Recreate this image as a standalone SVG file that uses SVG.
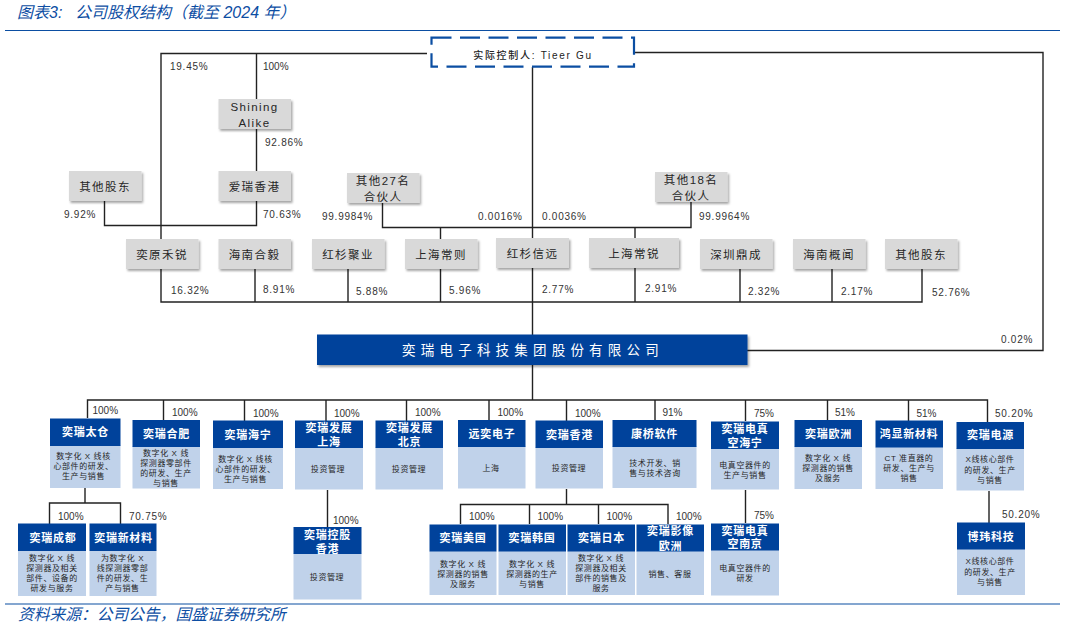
<svg xmlns="http://www.w3.org/2000/svg" width="1065" height="628" viewBox="0 0 1065 628">
<style>
text{font-family:"Liberation Sans","Noto Sans CJK SC",sans-serif}
.cap{font-size:16px;font-style:italic;fill:#0d4ea3}
.rule{stroke:#0b4ea2;stroke-width:1.2;fill:none}
.ln{stroke:#222;stroke-width:1.4;fill:none}
.g{fill:#d9d9d9;filter:url(#sh)}
.gt{font-size:11.5px;letter-spacing:1.4px;fill:#262626;text-anchor:middle}
.h{fill:#00429b}
.b{fill:#c0d2ea}
.ht{font-size:11px;font-weight:700;letter-spacing:.7px;fill:#fff;text-anchor:middle}
.bt{font-size:8px;letter-spacing:.6px;fill:#262626;text-anchor:middle}
.p{font-size:10px;fill:#333}
.pd{font-size:10px;letter-spacing:.75px;fill:#333}
</style>
<defs><filter id="sh" x="-10%" y="-10%" width="120%" height="130%"><feDropShadow dx="1.5" dy="2" stdDeviation="1" flood-color="#000" flood-opacity=".35"/></filter></defs>

<text class="cap" x="17" y="18">图表3:</text><text class="cap" x="75" y="18">公司股权结构（截至 2024 年）</text>
<path class="rule" d="M5 30.500H1060M5 604H1060"/>

<g id="connectors">
<path class="ln" d="M427 53.500H161V239M256.500 53.500V99M256.500 129V171M256.500 201V225.500H104.500V201M161 225.500V239"/>
<path class="ln" d="M634 52.500H1043V350.500H745"/>
<path class="ln" d="M532.500 67V335M382.500 203V227.500H691V202M440.500 227.500V239M635 227.500V238"/>
<path class="ln" d="M161 269V302H922V269M255 269V302M348 269V302M440.500 269V302M635 268V302M740 269V302M832 269V302"/>
<path class="ln" d="M532.500 365V400"/>
<path class="ln" d="M87.500 418V400H987.500V422M163.500 400V420M244.500 400V421M326 400V421M406.500 400V421M489 400V420M566.500 400V421M655 400V420M745.500 400V421M827.500 400V420M908.500 400V421"/>
<path class="ln" d="M85 488V503M49.500 524V503H120.500V524"/>
<path class="ln" d="M327.500 490V527"/>
<path class="ln" d="M566.500 489V504.500M460.500 524V504.500H668V524M529.500 504.500V524M598.500 504.500V524"/>
<path class="ln" d="M745.500 490V523M989 491V523"/>
</g>

<g id="controller"><rect x="431.500" y="37.700" width="202.500" height="29" fill="#fff" stroke="#0b4ea2" stroke-width="2.200" stroke-dasharray="20 8.500"/><text x="533" y="59" font-size="10px" font-weight="500" letter-spacing="1.700px" fill="#222" text-anchor="middle">实际控制人: Tieer Gu</text></g>

<g id="shining"><rect class="g" x="218.500" y="99" width="72.500" height="30"/><text class="gt" x="254.500" y="111">Shining</text><text class="gt" x="254.500" y="127">Alike</text></g>
<g id="aixg"><rect class="g" x="218.500" y="171" width="72.500" height="30"/><text class="gt" x="254.500" y="191">爱瑞香港</text></g>
<g id="qtgd1"><rect class="g" x="69" y="171" width="72.500" height="30"/><text class="gt" x="105" y="191">其他股东</text></g>
<g id="qt27"><rect class="g" x="347" y="173" width="72.500" height="30"/><text class="gt" x="383" y="185">其他27名</text><text class="gt" x="383" y="201">合伙人</text></g>
<g id="qt18"><rect class="g" x="655" y="172" width="72.500" height="30"/><text class="gt" x="691" y="184">其他18名</text><text class="gt" x="691" y="200">合伙人</text></g>
<g id="yyhr"><rect class="g" x="126" y="239" width="72.500" height="30"/><text class="gt" x="162" y="259">奕原禾锐</text></g>
<g id="hnhy"><rect class="g" x="218.500" y="239" width="72.500" height="30"/><text class="gt" x="254.500" y="259">海南合毅</text></g>
<g id="hsjy"><rect class="g" x="312" y="239" width="72.500" height="30"/><text class="gt" x="348" y="259">红杉聚业</text></g>
<g id="shcz"><rect class="g" x="405" y="239" width="72.500" height="30"/><text class="gt" x="441" y="259">上海常则</text></g>
<g id="hsxy"><rect class="g" x="496" y="238" width="73" height="30"/><text class="gt" x="532.500" y="258">红杉信远</text></g>
<g id="shcr"><rect class="g" x="589" y="238" width="90" height="30"/><text class="gt" x="634" y="258">上海常锐</text></g>
<g id="szdc"><rect class="g" x="700" y="239" width="72.500" height="30"/><text class="gt" x="736" y="259">深圳鼎成</text></g>
<g id="hngw"><rect class="g" x="793" y="239" width="72.500" height="30"/><text class="gt" x="829" y="259">海南概闻</text></g>
<g id="qtgd2"><rect class="g" x="885" y="239" width="72.500" height="30"/><text class="gt" x="921" y="259">其他股东</text></g>

<g id="iray"><rect x="317" y="334.500" width="430.500" height="30.500" fill="#00429b" filter="url(#sh)"/><text x="533" y="355" font-size="13.500px" letter-spacing="5.200px" fill="#fff" text-anchor="middle">奕瑞电子科技集团股份有限公司</text></g>

<g id="taicang"><rect class="b" x="50" y="445" width="70.500" height="43"/><rect class="h" x="50" y="418.500" width="70.500" height="27.500"/><text class="ht" x="85.500" y="436">奕瑞太仓</text><text class="bt" x="83.500" y="459">数字化 X 线核</text><text class="bt" x="83.500" y="469">心部件的研发、</text><text class="bt" x="83.500" y="479">生产与销售</text></g>
<g id="hefei"><rect class="b" x="132.500" y="446" width="67.500" height="42.500"/><rect class="h" x="132.500" y="420" width="67.500" height="27"/><text class="ht" x="166.500" y="438">奕瑞合肥</text><text class="bt" x="166" y="456">数字化 X 线</text><text class="bt" x="166" y="466">探测器零部件</text><text class="bt" x="166" y="476">的研发、生产</text><text class="bt" x="166" y="486">与销售</text></g>
<g id="haining"><rect class="b" x="213" y="447" width="70" height="42"/><rect class="h" x="213" y="420.500" width="70" height="27.500"/><text class="ht" x="248" y="439">奕瑞海宁</text><text class="bt" x="245.500" y="462">数字化 X 线核</text><text class="bt" x="245.500" y="472">心部件的研发、</text><text class="bt" x="245.500" y="482">生产与销售</text></g>
<g id="fzsh"><rect class="b" x="295" y="447" width="68" height="42.500"/><rect class="h" x="295" y="420.500" width="68" height="27.500"/><text class="ht" x="329" y="432">奕瑞发展</text><text class="ht" x="329" y="446">上海</text><text class="bt" x="328" y="472">投资管理</text></g>
<g id="fzbj"><rect class="b" x="375.500" y="447" width="67.500" height="42.500"/><rect class="h" x="375.500" y="420.500" width="67.500" height="27.500"/><text class="ht" x="409.500" y="432">奕瑞发展</text><text class="ht" x="409.500" y="446">北京</text><text class="bt" x="409" y="472">投资管理</text></g>
<g id="yyd"><rect class="b" x="458" y="446" width="67.500" height="42.500"/><rect class="h" x="458" y="420" width="67.500" height="27"/><text class="ht" x="492" y="438">远奕电子</text><text class="bt" x="491" y="471">上海</text></g>
<g id="xg"><rect class="b" x="535.500" y="447" width="67.500" height="41.500"/><rect class="h" x="535.500" y="420.500" width="67.500" height="27.500"/><text class="ht" x="569.500" y="439">奕瑞香港</text><text class="bt" x="569" y="471">投资管理</text></g>
<g id="kq"><rect class="b" x="612.500" y="446" width="84" height="42"/><rect class="h" x="612.500" y="420" width="84" height="27"/><text class="ht" x="654.500" y="438">康桥软件</text><text class="bt" x="655" y="466">技术开发、销</text><text class="bt" x="655" y="476">售与技术咨询</text></g>
<g id="zkhn"><rect class="b" x="711" y="448" width="68" height="41.500"/><rect class="h" x="711" y="421.500" width="68" height="27.500"/><text class="ht" x="745" y="433">奕瑞电真</text><text class="ht" x="745" y="447">空海宁</text><text class="bt" x="745" y="468">电真空器件的</text><text class="bt" x="745" y="478">生产与销售</text></g>
<g id="oz"><rect class="b" x="794.500" y="446" width="67.500" height="43"/><rect class="h" x="794.500" y="420" width="67.500" height="27"/><text class="ht" x="828.500" y="438">奕瑞欧洲</text><text class="bt" x="828" y="461">数字化 X 线</text><text class="bt" x="828" y="471">探测器的销售</text><text class="bt" x="828" y="481">及服务</text></g>
<g id="hx"><rect class="b" x="875.500" y="447" width="67.500" height="42"/><rect class="h" x="875.500" y="420.500" width="67.500" height="27"/><text class="ht" x="909" y="438">鸿显新材料</text><text class="bt" x="909" y="461">CT 准直器的</text><text class="bt" x="909" y="471">研发、生产与</text><text class="bt" x="909" y="481">销售</text></g>
<g id="dy"><rect class="b" x="956.500" y="448" width="67.500" height="42.500"/><rect class="h" x="956.500" y="422" width="67.500" height="27"/><text class="ht" x="990.500" y="439">奕瑞电源</text><text class="bt" x="990" y="462">X线核心部件</text><text class="bt" x="990" y="473">的研发、生产</text><text class="bt" x="990" y="483">与销售</text></g>

<g id="cd"><rect class="b" x="18" y="550.500" width="68" height="45.500"/><rect class="h" x="18" y="523.500" width="68" height="27.500"/><text class="ht" x="53" y="542">奕瑞成都</text><text class="bt" x="52" y="561">数字化 X 线</text><text class="bt" x="52" y="571">探测器及相关</text><text class="bt" x="52" y="581">部件、设备的</text><text class="bt" x="52" y="591">研发与服务</text></g>
<g id="xcl"><rect class="b" x="89.500" y="550.500" width="67" height="45.500"/><rect class="h" x="89.500" y="523.500" width="67" height="27.500"/><text class="ht" x="123.500" y="542">奕瑞新材料</text><text class="bt" x="122.500" y="561">为数字化 X</text><text class="bt" x="122.500" y="571">线探测器零部</text><text class="bt" x="122.500" y="581">件的研发、生</text><text class="bt" x="122.500" y="591">产与销售</text></g>
<g id="kg"><rect class="b" x="293.500" y="553.500" width="68" height="46"/><rect class="h" x="293.500" y="527" width="68" height="27"/><text class="ht" x="327.500" y="539">奕瑞控股</text><text class="ht" x="327.500" y="553">香港</text><text class="bt" x="327" y="580">投资管理</text></g>
<g id="mg"><rect class="b" x="429.500" y="551" width="67" height="44"/><rect class="h" x="429.500" y="524.500" width="67" height="27"/><text class="ht" x="463" y="542">奕瑞美国</text><text class="bt" x="463" y="567">数字化 X 线</text><text class="bt" x="463" y="577">探测器的销售</text><text class="bt" x="463" y="587">及服务</text></g>
<g id="hg"><rect class="b" x="498.500" y="551" width="67.500" height="44"/><rect class="h" x="498.500" y="524.500" width="67.500" height="27"/><text class="ht" x="532" y="542">奕瑞韩国</text><text class="bt" x="532" y="567">数字化 X 线</text><text class="bt" x="532" y="577">探测器的生产</text><text class="bt" x="532" y="587">与销售</text></g>
<g id="rb"><rect class="b" x="567.500" y="551" width="67.500" height="44"/><rect class="h" x="567.500" y="524.500" width="67.500" height="27"/><text class="ht" x="601.500" y="542">奕瑞日本</text><text class="bt" x="601" y="561">数字化 X 线</text><text class="bt" x="601" y="571">探测器及相关</text><text class="bt" x="601" y="581">部件的销售及</text><text class="bt" x="601" y="591">服务</text></g>
<g id="yxoz"><rect class="b" x="636.500" y="551" width="67.500" height="44"/><rect class="h" x="636.500" y="524.500" width="67.500" height="27"/><text class="ht" x="670.500" y="535">奕瑞影像</text><text class="ht" x="670.500" y="550">欧洲</text><text class="bt" x="670" y="577">销售、客服</text></g>
<g id="zknj"><rect class="b" x="711" y="550" width="68" height="45.500"/><rect class="h" x="711" y="523.500" width="68" height="27"/><text class="ht" x="745" y="535">奕瑞电真</text><text class="ht" x="745" y="548">空南京</text><text class="bt" x="745" y="571">电真空器件的</text><text class="bt" x="745" y="581">研发</text></g>
<g id="bw"><rect class="b" x="957" y="549" width="68" height="46"/><rect class="h" x="957" y="522.500" width="68" height="27"/><text class="ht" x="991" y="541">博玮科技</text><text class="bt" x="990" y="564">X线核心部件</text><text class="bt" x="990" y="575">的研发、生产</text><text class="bt" x="990" y="585">与销售</text></g>

<g id="percent-labels">
<text class="pd" x="170" y="70">19.45%</text><text class="p" x="263" y="70">100%</text><text class="pd" x="265" y="146">92.86%</text><text class="pd" x="64" y="218">9.92%</text><text class="pd" x="263" y="218">70.63%</text><text class="pd" x="322" y="220">99.9984%</text><text class="pd" x="478" y="220">0.0016%</text><text class="pd" x="542" y="220">0.0036%</text><text class="pd" x="699" y="220">99.9964%</text>
<text class="pd" x="171" y="294">16.32%</text><text class="pd" x="263" y="293">8.91%</text><text class="pd" x="356" y="295">5.88%</text><text class="pd" x="449" y="294">5.96%</text><text class="pd" x="542" y="293">2.77%</text><text class="pd" x="645" y="292">2.91%</text><text class="pd" x="748" y="295">2.32%</text><text class="pd" x="841" y="295">2.17%</text><text class="pd" x="932" y="296">52.76%</text><text class="pd" x="1001" y="343">0.02%</text>
<text class="p" x="92.500" y="414">100%</text><text class="p" x="172" y="416">100%</text><text class="p" x="253" y="417">100%</text><text class="p" x="334" y="417">100%</text><text class="p" x="415" y="416">100%</text><text class="p" x="497.500" y="416">100%</text><text class="p" x="575" y="417">100%</text><text class="p" x="662.500" y="416">91%</text><text class="p" x="754" y="417">75%</text><text class="p" x="835" y="416">51%</text><text class="p" x="916.500" y="417">51%</text><text class="pd" x="995" y="417">50.20%</text>
<text class="p" x="58" y="520">100%</text><text class="pd" x="129" y="520">70.75%</text><text class="p" x="333" y="524">100%</text><text class="p" x="469" y="520">100%</text><text class="p" x="537.500" y="520">100%</text><text class="p" x="606.500" y="520">100%</text><text class="p" x="676" y="520">100%</text><text class="p" x="754" y="519">75%</text><text class="pd" x="1002" y="518">50.20%</text>
</g>
<text x="18" y="620" font-size="15.750px" font-style="italic" fill="#0d4ea3">资料来源：公司公告，国盛证券研究所</text>
</svg>
